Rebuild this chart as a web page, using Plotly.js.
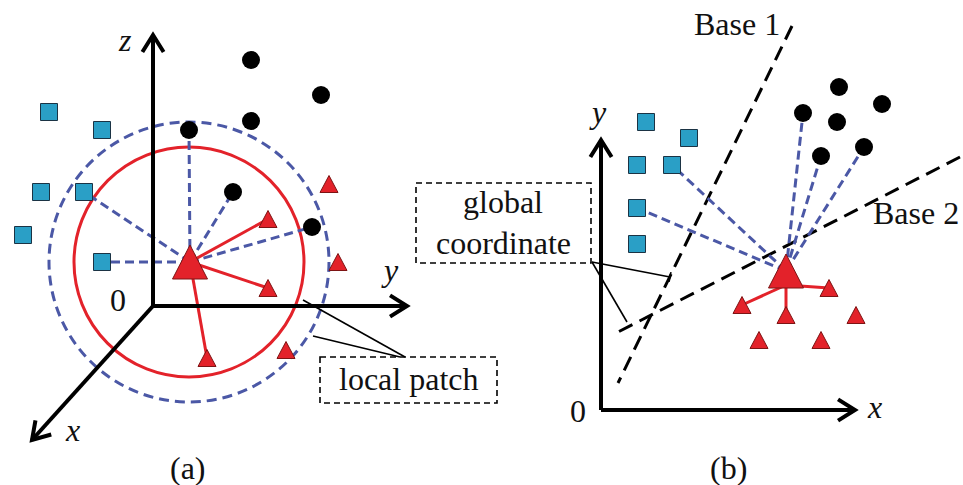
<!DOCTYPE html>
<html>
<head>
<meta charset="utf-8">
<script src="https://cdn.plot.ly/plotly-3.0.1.min.js"></script>
<style>html,body{margin:0;padding:0;background:#fff}</style>
</head>
<body>
<div id="fig" style="width:963px;height:485px"></div>
<script>
// ---------- Panel (a): local patch in 3-D space ----------
const aSquareX = [49, 102, 41, 84, 23, 102];
const aSquareY = [112, 130, 192, 192, 235, 262];
const aCircleX = [251, 321, 251, 189, 233, 312];
const aCircleY = [60, 95, 121, 130, 192, 227];
const aTriX = [329, 268, 338, 268, 207, 286];
const aTriY = [184, 219, 262, 288, 358, 350];
const aQuery = [190, 262];
const aSquareLinks = [3, 5];
const aCircleLinks = [3, 4, 5];
const aTriLinks = [1, 3, 4];
const aPatchCenter = [189, 262];
const aPatchRadius = [115, 140];          // solid (red) and dashed (blue) rings
const aOrigin = [153, 306];
const aAxisTips = {z: [153, 35], y: [407, 306], x: [32, 440]};

// ---------- Panel (b): global coordinate ----------
const bSquareX = [646, 689, 637, 672, 637, 637];
const bSquareY = [122, 138, 165, 165, 208, 244];
const bCircleX = [839, 803, 882, 837, 821, 864];
const bCircleY = [87, 113, 104, 122, 156, 147];
const bTriX = [742, 786, 829, 856, 759, 821];
const bTriY = [305, 315, 288, 315, 340, 340];
const bQuery = [786, 271];
const bSquareLinks = [3, 4];
const bCircleLinks = [1, 4, 5];
const bTriLinks = [0, 1, 2];
const bOrigin = [601, 410];
const bAxisTips = {y: [601, 140], x: [855, 410]};
const base1 = {x: [792, 618], y: [26, 383]};
const base2 = {x: [960, 618], y: [157, 332]};

// ---------- callout boxes ----------
const localBox = {x: [320, 497], y: [357, 403]};
const localLeaders = {from: [[405, 357], [400, 357]], to: [[303, 300], [313, 336]]};
const globalBox = {x: [416, 591], y: [183, 263]};
const globalLeaders = {from: [[592, 262], [592, 262]], to: [[670, 277], [627, 322]]};

const RED = '#e3222a', TEAL = '#2a9fc6', BLUE = '#4b58a6';
const SERIF = 'Liberation Serif';

// helpers ---------------------------------------------------------
function segs(pairs) {               // [[x0,y0,x1,y1],...] -> x/y with gaps
  const x = [], y = [];
  pairs.forEach(p => { x.push(p[0], p[2], null); y.push(p[1], p[3], null); });
  return {x, y};
}
function links(q, xs, ys, idx, dy) {
  return idx.map(i => [q[0], q[1] + (dy || 0), xs[i], ys[i]]);
}
function triangles(xs, ys, w, h) {
  const x = [], y = [];
  xs.forEach((cx, i) => {
    const cy = ys[i];
    x.push(cx - w / 2, cx, cx + w / 2, cx - w / 2, null);
    y.push(cy + h / 2, cy - h / 2, cy + h / 2, cy + h / 2, null);
  });
  return {x, y};
}
function arrowHead(o, t, len, ang) {
  const dx = t[0] - o[0], dy = t[1] - o[1], d = Math.hypot(dx, dy);
  const ux = dx / d, uy = dy / d, nx = -uy, ny = ux;
  const c = Math.cos(ang), s = Math.sin(ang);
  return {
    x: [t[0] - len * (c * ux + s * nx), t[0], t[0] - len * (c * ux - s * nx), null],
    y: [t[1] - len * (c * uy + s * ny), t[1], t[1] - len * (c * uy - s * ny), null]
  };
}
function concat(parts) {
  const x = [], y = [];
  parts.forEach(p => { x.push(...p.x); y.push(...p.y); });
  return {x, y};
}
function lineTrace(xy, color, width, dash) {
  return {type: 'scatter', mode: 'lines', x: xy.x, y: xy.y, hoverinfo: 'skip',
          line: {color, width, dash: dash || 'solid'}, connectgaps: false};
}

// axes with open arrowheads
const axisPairs = [];
const heads = [];
Object.values(aAxisTips).forEach(t => { axisPairs.push([aOrigin[0], aOrigin[1], t[0], t[1]]); heads.push(arrowHead(aOrigin, t, 20, 0.56)); });
Object.values(bAxisTips).forEach(t => { axisPairs.push([bOrigin[0], bOrigin[1], t[0], t[1]]); heads.push(arrowHead(bOrigin, t, 20, 0.56)); });

// leader lines, with a small end tick on the first global one
const leaderPairs = [];
localLeaders.from.forEach((f, i) => leaderPairs.push([f[0], f[1], localLeaders.to[i][0], localLeaders.to[i][1]]));
globalLeaders.from.forEach((f, i) => leaderPairs.push([f[0], f[1], globalLeaders.to[i][0], globalLeaders.to[i][1]]));
(function () {
  const f = globalLeaders.from[0], t = globalLeaders.to[0];
  const dx = t[0] - f[0], dy = t[1] - f[1], d = Math.hypot(dx, dy);
  const nx = -dy / d * 5, ny = dx / d * 5;
  leaderPairs.push([t[0] - nx, t[1] - ny, t[0] + nx, t[1] + ny]);
})();

const blueLinks = segs(links(aQuery, aSquareX, aSquareY, aSquareLinks)
  .concat(links(aQuery, aCircleX, aCircleY, aCircleLinks))
  .concat(links(bQuery, bSquareX, bSquareY, bSquareLinks))
  .concat(links(bQuery, bCircleX, bCircleY, bCircleLinks)));
const redLinks = segs(links(aQuery, aTriX, aTriY, aTriLinks)
  .concat(links(bQuery, bTriX, bTriY, bTriLinks, 14)));

const smallTris = triangles(aTriX.concat(bTriX), aTriY.concat(bTriY), 18, 17);
const bigTris = triangles([aQuery[0], bQuery[0]], [aQuery[1], bQuery[1]], 35, 34);

const data = [
  lineTrace(segs([[base1.x[0], base1.y[0], base1.x[1], base1.y[1]],
                  [base2.x[0], base2.y[0], base2.x[1], base2.y[1]]]), '#000', 3, '15px,8px'),
  lineTrace(segs(leaderPairs), '#000', 1.6),
  lineTrace(blueLinks, BLUE, 3, '9px,5px'),
  lineTrace(redLinks, RED, 3),
  lineTrace(segs(axisPairs), '#000', 4),
  lineTrace(concat(heads), '#000', 4),
  {type: 'scatter', mode: 'markers', x: aSquareX.concat(bSquareX), y: aSquareY.concat(bSquareY), hoverinfo: 'skip',
   marker: {symbol: 'square', size: 17, color: TEAL, line: {color: '#1b3344', width: 1}}},
  {type: 'scatter', mode: 'markers', x: aCircleX.concat(bCircleX), y: aCircleY.concat(bCircleY), hoverinfo: 'skip',
   marker: {symbol: 'circle', size: 18, color: '#000', line: {width: 0}}},
  {type: 'scatter', mode: 'lines', x: smallTris.x, y: smallTris.y, fill: 'toself', fillcolor: RED, hoverinfo: 'skip',
   line: {color: '#7d1414', width: 1}},
  {type: 'scatter', mode: 'lines', x: bigTris.x, y: bigTris.y, fill: 'toself', fillcolor: RED, hoverinfo: 'skip',
   line: {color: '#7d1414', width: 1}}
];

const shapes = [
  {type: 'circle', layer: 'below', x0: aPatchCenter[0] - aPatchRadius[0], x1: aPatchCenter[0] + aPatchRadius[0],
   y0: aPatchCenter[1] - aPatchRadius[0], y1: aPatchCenter[1] + aPatchRadius[0], line: {color: RED, width: 3}},
  {type: 'circle', layer: 'below', x0: aPatchCenter[0] - aPatchRadius[1], x1: aPatchCenter[0] + aPatchRadius[1],
   y0: aPatchCenter[1] - aPatchRadius[1], y1: aPatchCenter[1] + aPatchRadius[1], line: {color: BLUE, width: 3, dash: '10px,6px'}},
  {type: 'rect', x0: localBox.x[0], x1: localBox.x[1], y0: localBox.y[0], y1: localBox.y[1],
   line: {color: '#000', width: 1.6, dash: '6px,4px'}, fillcolor: 'rgba(0,0,0,0)'},
  {type: 'rect', x0: globalBox.x[0], x1: globalBox.x[1], y0: globalBox.y[0], y1: globalBox.y[1],
   line: {color: '#000', width: 1.6, dash: '6px,4px'}, fillcolor: 'rgba(0,0,0,0)'}
];

function label(text, x, y, anchor) {
  return {text, x, y, xref: 'x', yref: 'y', showarrow: false, xanchor: anchor || 'center', yanchor: 'middle',
          font: {family: SERIF, size: 32, color: '#111'}};
}
const annotations = [
  label('<i>z</i>', 125, 40), label('<i>y</i>', 390, 270), label('<i>x</i>', 72, 430), label('0', 118, 300),
  label('(a)', 188, 468), label('local patch', 408, 379),
  label('global', 503, 202), label('coordinate', 503, 243),
  label('Base 1', 737, 24), label('Base 2', 961, 213, 'right'),
  label('<i>y</i>', 598, 112), label('<i>x</i>', 874, 407), label('0', 578, 411), label('(b)', 728, 468)
];

const layout = {
  width: 963, height: 485, margin: {l: 0, r: 0, t: 0, b: 0},
  paper_bgcolor: '#fff', plot_bgcolor: '#fff', showlegend: false,
  font: {family: SERIF},
  xaxis: {range: [0, 963], visible: false, fixedrange: true},
  yaxis: {range: [485, 0], visible: false, fixedrange: true},
  shapes, annotations
};
Plotly.newPlot('fig', data, layout, {staticPlot: true, displayModeBar: false});
</script>
</body>
</html>
